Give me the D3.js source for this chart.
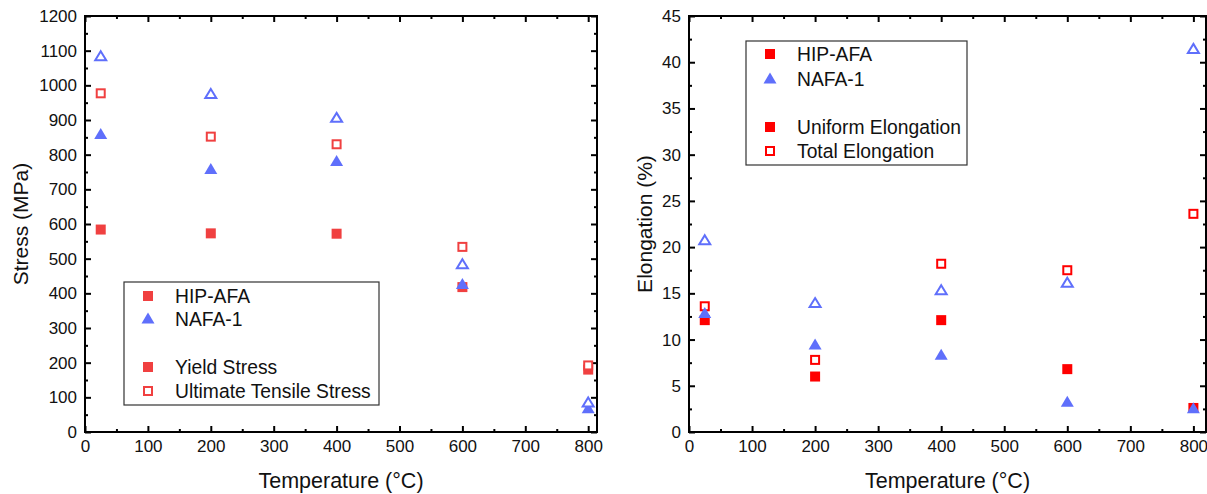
<!DOCTYPE html>
<html>
<head>
<meta charset="utf-8">
<script src="https://cdn.jsdelivr.net/npm/d3@7"></script>
<style>
  body { margin: 0; background: #fff; }
  svg { display: block; font-family: "Liberation Sans", Arial, sans-serif; }
</style>
</head>
<body>
<svg id="chart" width="1207" height="494"></svg>
<script>
// temperatures (RT plotted at 25 °C)
const temps = [25, 200, 400, 600, 800];

// left panel: stress (MPa)
const hipYield = [584, 573, 572, 418, 180];
const hipUts = [977, 852, 830, 534, 192];
const nafaYield = [858, 757, 780, 425, 67];
const nafaUts = [1083, 974, 905, 483, 84];

// right panel: elongation (%)
const hipUniform = [12.1, 6.0, 12.1, 6.8, 2.6];
const hipTotal = [13.6, 7.8, 18.2, 17.5, 23.6];
const nafaUniform = [12.8, 9.4, 8.3, 3.2, 2.5];
const nafaTotal = [20.7, 13.9, 15.3, 16.1, 41.4];

const stressTicks = d3.range(0, 1201, 100);
const elongTicks = d3.range(0, 46, 5);
const tempTicks = d3.range(0, 801, 100);

const blue = '#5f6ffb';

const svg = d3.select('#chart');

// draws one marker (square or triangle, filled or open)
function marker(g, x, y, shape, filled, color) {
    if (shape === 'square') {
        const s = filled ? 10 : 8;
        g.append('rect')
            .attr('x', x - s / 2).attr('y', y - s / 2)
            .attr('width', s).attr('height', s)
            .attr('fill', filled ? color : '#fff')
            .attr('stroke', filled ? 'none' : color)
            .attr('stroke-width', 2);
    } else {
        const w = filled ? 13 : 11, h = filled ? 11 : 9;
        const pts = [[x, y - h * 0.6], [x + w / 2, y + h * 0.4], [x - w / 2, y + h * 0.4]];
        g.append('polygon')
            .attr('points', pts.map(p => p.join(',')).join(' '))
            .attr('fill', filled ? color : '#fff')
            .attr('stroke', filled ? 'none' : color)
            .attr('stroke-width', 2)
            .attr('stroke-linejoin', 'miter');
    }
}

function drawPanel(cfg) {
    const g = svg.append('g');
    const x = d3.scaleLinear().domain([0, cfg.xMax]).range([cfg.left, cfg.right]);
    const y = d3.scaleLinear().domain([0, cfg.yMax]).range([cfg.bottom, cfg.top]);

    // minor ticks
    const xMinor = d3.range(50, cfg.xMax, 100);
    const yMinor = d3.range(cfg.yStep / 2, cfg.yMax, cfg.yStep);
    const fmt = d3.format('d');

    const addAxis = (axis, tr) => {
        const a = g.append('g').attr('transform', tr).call(axis);
        a.select('.domain').remove();
        a.selectAll('line').attr('stroke', '#000').attr('stroke-width', 2);
        a.selectAll('text').attr('font-size', 17).attr('fill', '#111');
        return a;
    };

    addAxis(d3.axisBottom(x).tickValues(tempTicks).tickSize(-6).tickPadding(8).tickFormat(fmt), `translate(0,${cfg.bottom})`);
    addAxis(d3.axisBottom(x).tickValues(xMinor).tickSize(-3).tickFormat(''), `translate(0,${cfg.bottom})`);
    addAxis(d3.axisTop(x).tickValues(tempTicks).tickSize(-6).tickFormat(''), `translate(0,${cfg.top})`);
    addAxis(d3.axisTop(x).tickValues(xMinor).tickSize(-3).tickFormat(''), `translate(0,${cfg.top})`);
    addAxis(d3.axisLeft(y).tickValues(cfg.yTicks).tickSize(-6).tickPadding(8).tickFormat(fmt), `translate(${cfg.left},0)`);
    addAxis(d3.axisLeft(y).tickValues(yMinor).tickSize(-3).tickFormat(''), `translate(${cfg.left},0)`);
    addAxis(d3.axisRight(y).tickValues(cfg.yTicks).tickSize(-6).tickFormat(''), `translate(${cfg.right},0)`);
    addAxis(d3.axisRight(y).tickValues(yMinor).tickSize(-3).tickFormat(''), `translate(${cfg.right},0)`);

    // frame
    g.append('rect')
        .attr('x', cfg.left).attr('y', cfg.top)
        .attr('width', cfg.right - cfg.left).attr('height', cfg.bottom - cfg.top)
        .attr('fill', 'none').attr('stroke', '#000').attr('stroke-width', 2);

    // data markers
    const pts = g.append('g');
    cfg.series.forEach(s => {
        s.values.forEach((v, i) => marker(pts, x(temps[i]), y(v), s.shape, s.filled, s.color));
    });

    // axis titles
    g.append('text')
        .attr('x', (cfg.left + cfg.right) / 2).attr('y', 488)
        .attr('text-anchor', 'middle').attr('font-size', 21.5).attr('fill', '#111')
        .text('Temperature (°C)');
    g.append('text')
        .attr('transform', `translate(${cfg.yTitleX},${(cfg.top + cfg.bottom) / 2}) rotate(-90)`)
        .attr('text-anchor', 'middle').attr('font-size', 21).attr('fill', '#111')
        .text(cfg.yTitle);

    // legend
    const lg = cfg.legend;
    g.append('rect')
        .attr('x', lg.x).attr('y', lg.y).attr('width', lg.w).attr('height', lg.h)
        .attr('fill', '#fff').attr('stroke', '#333').attr('stroke-width', 1.2);
    lg.items.forEach(it => {
        marker(g, lg.x + 24, lg.y + it.dy, it.shape, it.filled, it.color);
        g.append('text')
            .attr('x', lg.x + 51).attr('y', lg.y + it.dy)
            .attr('dy', '0.35em').attr('font-size', 19.3).attr('fill', '#111')
            .text(it.label);
    });
}

const redL = '#f04040';
drawPanel({
    left: 85, right: 597, top: 16, bottom: 432,
    xMax: 814, yMax: 1200, yStep: 100, yTicks: stressTicks,
    yTitle: 'Stress (MPa)', yTitleX: 28,
    series: [
        { values: hipYield, shape: 'square', filled: true, color: redL },
        { values: hipUts, shape: 'square', filled: false, color: redL },
        { values: nafaYield, shape: 'triangle', filled: true, color: blue },
        { values: nafaUts, shape: 'triangle', filled: false, color: blue }
    ],
    legend: {
        x: 124, y: 282, w: 255, h: 123,
        items: [
            { label: 'HIP-AFA', dy: 14, shape: 'square', filled: true, color: redL },
            { label: 'NAFA-1', dy: 37, shape: 'triangle', filled: true, color: blue },
            { label: 'Yield Stress', dy: 85, shape: 'square', filled: true, color: redL },
            { label: 'Ultimate Tensile Stress', dy: 109, shape: 'square', filled: false, color: redL }
        ]
    }
});

const redR = '#ff0000';
drawPanel({
    left: 689, right: 1206, top: 16, bottom: 432,
    xMax: 820, yMax: 45, yStep: 5, yTicks: elongTicks,
    yTitle: 'Elongation (%)', yTitleX: 652,
    series: [
        { values: hipUniform, shape: 'square', filled: true, color: redR },
        { values: hipTotal, shape: 'square', filled: false, color: redR },
        { values: nafaUniform, shape: 'triangle', filled: true, color: blue },
        { values: nafaTotal, shape: 'triangle', filled: false, color: blue }
    ],
    legend: {
        x: 746, y: 41, w: 221, h: 124,
        items: [
            { label: 'HIP-AFA', dy: 13, shape: 'square', filled: true, color: redR },
            { label: 'NAFA-1', dy: 38, shape: 'triangle', filled: true, color: blue },
            { label: 'Uniform Elongation', dy: 86, shape: 'square', filled: true, color: redR },
            { label: 'Total Elongation', dy: 110, shape: 'square', filled: false, color: redR }
        ]
    }
});
</script>
</body>
</html>
